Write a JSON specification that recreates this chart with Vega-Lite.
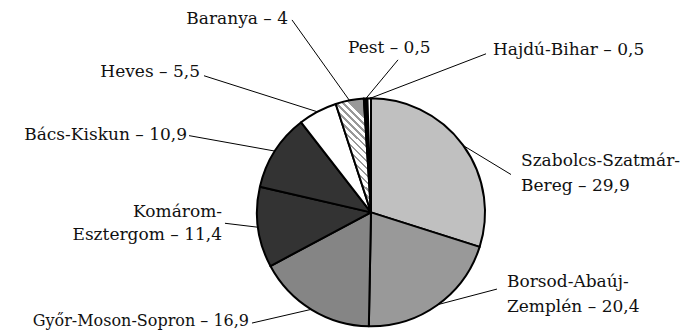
{
  "$schema": "https://vega.github.io/schema/vega-lite/v6.json",
  "width": 693,
  "height": 330,
  "padding": 0,
  "autosize": {"type": "fit", "contains": "padding"},
  "background": "white",
  "config": {"view": {"stroke": null}},
  "datasets": {
    "shares": [
      {"name": "Szabolcs-Szatmár-Bereg", "value": 29.9, "rank": 1},
      {"name": "Borsod-Abaúj-Zemplén", "value": 20.4, "rank": 2},
      {"name": "Győr-Moson-Sopron", "value": 16.9, "rank": 3},
      {"name": "Komárom-Esztergom", "value": 11.4, "rank": 4},
      {"name": "Bács-Kiskun", "value": 10.9, "rank": 5},
      {"name": "Heves", "value": 5.5, "rank": 6},
      {"name": "Baranya", "value": 4, "rank": 7},
      {"name": "Pest", "value": 0.5, "rank": 8},
      {"name": "Hajdú-Bihar", "value": 0.5, "rank": 9}
    ],
    "callouts": [
      {"name": "Szabolcs-Szatmár-Bereg", "label": "Szabolcs-Szatmár-\nBereg – 29,9", "ex": 0.809, "ey": 0.588, "lx": 1.228, "ly": 0.333, "tx": 1.316, "ty": 0.404},
      {"name": "Borsod-Abaúj-Zemplén", "label": "Borsod-Abaúj-\nZemplén – 20,4", "ex": 0.582, "ey": -0.813, "lx": 1.105, "ly": -0.675, "tx": 1.193, "ty": -0.658},
      {"name": "Győr-Moson-Sopron", "label": "Győr-Moson-Sopron – 16,9", "ex": -0.522, "ey": -0.853, "lx": -1.044, "ly": -0.974, "tx": -1.07, "ty": -1.0},
      {"name": "Komárom-Esztergom", "label": "Komárom-\nEsztergom – 11,4", "ex": -0.991, "ey": -0.131, "lx": -1.281, "ly": -0.096, "tx": -1.307, "ty": -0.044},
      {"name": "Bács-Kiskun", "label": "Bács-Kiskun – 10,9", "ex": -0.842, "ey": 0.539, "lx": -1.596, "ly": 0.675, "tx": -1.614, "ty": 0.64},
      {"name": "Heves", "label": "Heves – 5,5", "ex": -0.468, "ey": 0.884, "lx": -1.465, "ly": 1.202, "tx": -1.5, "ty": 1.193},
      {"name": "Baranya", "label": "Baranya – 4", "ex": -0.187, "ey": 0.982, "lx": -0.693, "ly": 1.693, "tx": -0.728, "ty": 1.658},
      {"name": "Pest", "label": "Pest – 0,5", "ex": -0.047, "ey": 0.999, "lx": 0.237, "ly": 1.342, "tx": -0.202, "ty": 1.404},
      {"name": "Hajdú-Bihar", "label": "Hajdú-Bihar – 0,5", "ex": -0.016, "ey": 1.0, "lx": 1.009, "ly": 1.395, "tx": 1.07, "ty": 1.386}
    ]
  },
  "layer": [
    {
      "data": {"name": "shares"},
      "mark": {"type": "arc", "outerRadius": 114, "stroke": "black", "strokeWidth": 2, "strokeJoin": "round"},
      "encoding": {
        "x": {"datum": 0, "type": "quantitative", "scale": {"domain": [-3.2544, 2.8246], "nice": false, "zero": false}, "axis": null},
        "y": {"datum": 0, "type": "quantitative", "scale": {"domain": [-1.0263, 1.8684], "nice": false, "zero": false}, "axis": null},
        "theta": {"field": "value", "type": "quantitative", "stack": true},
        "order": {"field": "rank", "type": "quantitative"},
        "color": {
          "condition": {
            "test": "datum.name === 'Baranya'",
            "value": {
              "gradient": "linear", "x1": 0, "y1": 1, "x2": 0.307, "y2": 0,
              "stops": [
                {"offset": 0, "color": "#ffffff"}, {"offset": 0.0361, "color": "#ffffff"}, {"offset": 0.0361, "color": "#999999"}, {"offset": 0.0556, "color": "#999999"},
                {"offset": 0.0556, "color": "#ffffff"}, {"offset": 0.0917, "color": "#ffffff"}, {"offset": 0.0917, "color": "#999999"}, {"offset": 0.1111, "color": "#999999"},
                {"offset": 0.1111, "color": "#ffffff"}, {"offset": 0.1472, "color": "#ffffff"}, {"offset": 0.1472, "color": "#999999"}, {"offset": 0.1667, "color": "#999999"},
                {"offset": 0.1667, "color": "#ffffff"}, {"offset": 0.2028, "color": "#ffffff"}, {"offset": 0.2028, "color": "#999999"}, {"offset": 0.2222, "color": "#999999"},
                {"offset": 0.2222, "color": "#ffffff"}, {"offset": 0.2583, "color": "#ffffff"}, {"offset": 0.2583, "color": "#999999"}, {"offset": 0.2778, "color": "#999999"},
                {"offset": 0.2778, "color": "#ffffff"}, {"offset": 0.3139, "color": "#ffffff"}, {"offset": 0.3139, "color": "#999999"}, {"offset": 0.3333, "color": "#999999"},
                {"offset": 0.3333, "color": "#ffffff"}, {"offset": 0.3694, "color": "#ffffff"}, {"offset": 0.3694, "color": "#999999"}, {"offset": 0.3889, "color": "#999999"},
                {"offset": 0.3889, "color": "#ffffff"}, {"offset": 0.425, "color": "#ffffff"}, {"offset": 0.425, "color": "#999999"}, {"offset": 0.4444, "color": "#999999"},
                {"offset": 0.4444, "color": "#ffffff"}, {"offset": 0.4806, "color": "#ffffff"}, {"offset": 0.4806, "color": "#999999"}, {"offset": 0.5, "color": "#999999"},
                {"offset": 0.5, "color": "#ffffff"}, {"offset": 0.5361, "color": "#ffffff"}, {"offset": 0.5361, "color": "#999999"}, {"offset": 0.5556, "color": "#999999"},
                {"offset": 0.5556, "color": "#ffffff"}, {"offset": 0.5917, "color": "#ffffff"}, {"offset": 0.5917, "color": "#999999"}, {"offset": 0.6111, "color": "#999999"},
                {"offset": 0.6111, "color": "#ffffff"}, {"offset": 0.6472, "color": "#ffffff"}, {"offset": 0.6472, "color": "#999999"}, {"offset": 0.6667, "color": "#999999"},
                {"offset": 0.6667, "color": "#ffffff"}, {"offset": 0.7028, "color": "#ffffff"}, {"offset": 0.7028, "color": "#999999"}, {"offset": 0.7222, "color": "#999999"},
                {"offset": 0.7222, "color": "#ffffff"}, {"offset": 0.7583, "color": "#ffffff"}, {"offset": 0.7583, "color": "#999999"}, {"offset": 0.7778, "color": "#999999"},
                {"offset": 0.7778, "color": "#ffffff"}, {"offset": 0.8139, "color": "#ffffff"}, {"offset": 0.8139, "color": "#999999"}, {"offset": 0.8333, "color": "#999999"},
                {"offset": 0.8333, "color": "#ffffff"}, {"offset": 0.8694, "color": "#ffffff"}, {"offset": 0.8694, "color": "#999999"}, {"offset": 0.8889, "color": "#999999"},
                {"offset": 0.8889, "color": "#ffffff"}, {"offset": 0.925, "color": "#ffffff"}, {"offset": 0.925, "color": "#999999"}, {"offset": 0.9444, "color": "#999999"},
                {"offset": 0.9444, "color": "#ffffff"}, {"offset": 0.9806, "color": "#ffffff"}, {"offset": 0.9806, "color": "#999999"}, {"offset": 1, "color": "#999999"}
              ]
            }
          },
          "field": "name",
          "type": "nominal",
          "scale": {
            "domain": ["Szabolcs-Szatmár-Bereg", "Borsod-Abaúj-Zemplén", "Győr-Moson-Sopron", "Komárom-Esztergom", "Bács-Kiskun", "Heves", "Baranya", "Pest", "Hajdú-Bihar"],
            "range": ["#c0c0c0", "#999999", "#858585", "#333333", "#333333", "#ffffff", "#ffffff", "#000000", "#ffffff"]
          },
          "legend": null
        }
      }
    },
    {
      "data": {"name": "callouts"},
      "mark": {"type": "rule", "color": "black", "strokeWidth": 1},
      "encoding": {
        "x": {"field": "ex", "type": "quantitative"},
        "y": {"field": "ey", "type": "quantitative"},
        "x2": {"field": "lx"},
        "y2": {"field": "ly"}
      }
    },
    {
      "data": {"name": "callouts"},
      "transform": [{"filter": {"field": "name", "oneOf": ["Szabolcs-Szatmár-Bereg", "Borsod-Abaúj-Zemplén", "Pest", "Hajdú-Bihar"]}}],
      "mark": {"type": "text", "align": "left", "baseline": "alphabetic", "font": "DejaVu Serif", "fontSize": 17, "lineHeight": 25, "lineBreak": "\n", "color": "#111111"},
      "encoding": {
        "x": {"field": "tx", "type": "quantitative"},
        "y": {"field": "ty", "type": "quantitative"},
        "text": {"field": "label"}
      }
    },
    {
      "data": {"name": "callouts"},
      "transform": [{"filter": {"field": "name", "oneOf": ["Komárom-Esztergom", "Bács-Kiskun", "Heves", "Baranya"]}}],
      "mark": {"type": "text", "align": "right", "baseline": "alphabetic", "font": "DejaVu Serif", "fontSize": 17, "lineHeight": 23, "lineBreak": "\n", "color": "#111111"},
      "encoding": {
        "x": {"field": "tx", "type": "quantitative"},
        "y": {"field": "ty", "type": "quantitative"},
        "text": {"field": "label"}
      }
    },
    {
      "data": {"name": "callouts"},
      "transform": [{"filter": {"field": "name", "equal": "Győr-Moson-Sopron"}}],
      "mark": {"type": "text", "align": "right", "baseline": "alphabetic", "font": "DejaVu Serif", "fontSize": 16, "lineBreak": "\n", "color": "#111111"},
      "encoding": {
        "x": {"field": "tx", "type": "quantitative"},
        "y": {"field": "ty", "type": "quantitative"},
        "text": {"field": "label"}
      }
    }
  ]
}
